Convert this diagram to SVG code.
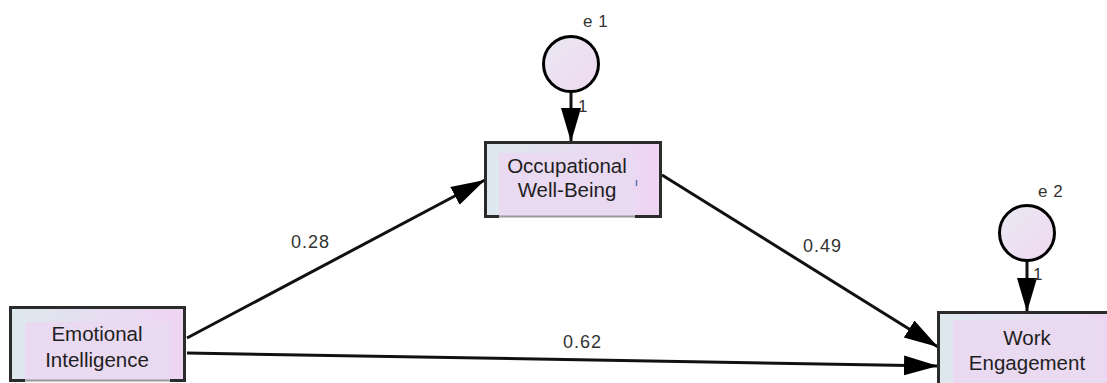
<svg xmlns="http://www.w3.org/2000/svg" width="1107" height="383" viewBox="0 0 1107 383">
<defs>
<linearGradient id="boxg" x1="0" y1="0" x2="1" y2="0">
<stop offset="0" stop-color="#dde8ee"/>
<stop offset="1" stop-color="#efd4f3"/>
</linearGradient>
<linearGradient id="circg" x1="0" y1="0" x2="1" y2="1">
<stop offset="0" stop-color="#e9e9f3"/>
<stop offset="1" stop-color="#f0d8f1"/>
</linearGradient>
<marker id="ah" markerUnits="userSpaceOnUse" markerWidth="36" markerHeight="22" refX="34" refY="10" orient="auto">
<path d="M0,0 L34,10 L0,20 z" fill="#000"/>
</marker>
</defs>
<style>
.box{fill:url(#boxg);stroke:none}
.inner{fill:#e9d9f1}
.edge{fill:none;stroke:#2b2b2b;stroke-width:3}
.bot{stroke:#9a9a9a;stroke-width:2}
.lbl{font-family:"Liberation Sans",Arial,sans-serif;font-size:20.5px;fill:#1e1e1e;text-anchor:middle}
.num{font-family:"Liberation Sans",Arial,sans-serif;font-size:18px;fill:#333;letter-spacing:1px}
.err{font-family:"Liberation Sans",Arial,sans-serif;font-size:17px;fill:#333;letter-spacing:0.5px}
.one{font-family:"Liberation Sans",Arial,sans-serif;font-size:17px;fill:#333}
.circ{fill:url(#circg);stroke:#000;stroke-width:3}
.conn{stroke:#111;stroke-width:3;fill:none;marker-end:url(#ah)}
</style>

<g id="connectors">
<line class="conn" x1="187" y1="338" x2="485" y2="180"/>
<line class="conn" x1="187" y1="353" x2="938" y2="366"/>
<line class="conn" x1="662" y1="175" x2="938" y2="347"/>
<line class="conn" x1="571" y1="92" x2="571" y2="142"/>
<line class="conn" x1="1027" y1="261" x2="1027" y2="312"/>
<text class="num" x="291" y="248">0.28</text>
<text class="num" x="803" y="252">0.49</text>
<text class="num" x="563" y="348">0.62</text>
<text class="one" x="578" y="112">1</text>
<text class="one" x="1033" y="280">1</text>
</g>

<g id="occupational-well-being">
<rect class="box" x="485" y="142" width="176" height="75"/>
<rect class="inner" x="499" y="153" width="136" height="64"/>
<path class="edge" d="M499,216.5 H485.5 V142.5 H660.5 V216.5 H635"/>
<line class="bot" x1="499" y1="216.5" x2="635" y2="216.5"/>
<line x1="636.5" y1="180" x2="636.5" y2="186" stroke="#5577aa" stroke-width="1.5"/>
<text class="lbl" x="567" y="173">Occupational</text>
<text class="lbl" x="567" y="197">Well-Being</text>
</g>

<g id="emotional-intelligence">
<rect class="box" x="10" y="307" width="175" height="74"/>
<rect class="inner" x="25" y="322" width="146" height="59"/>
<path class="edge" d="M25,380.5 H10.5 V307.5 H184.5 V380.5 H170"/>
<line class="bot" x1="25" y1="380.5" x2="170" y2="380.5"/>
<text class="lbl" x="97" y="341">Emotional</text>
<text class="lbl" x="97" y="367">Intelligence</text>
</g>

<g id="work-engagement">
<rect class="box" x="938" y="312" width="185" height="75"/>
<rect class="inner" x="953" y="320" width="150" height="67"/>
<path class="edge" d="M938.5,390 V312.5 H1110"/>
<text class="lbl" x="1027" y="345">Work</text>
<text class="lbl" x="1027" y="370">Engagement</text>
</g>

<g id="e1">
<circle class="circ" cx="571" cy="64" r="27.5"/>
<text class="err" x="583" y="27">e 1</text>
</g>

<g id="e2">
<circle class="circ" cx="1027" cy="233" r="27.5"/>
<text class="err" x="1038" y="197">e 2</text>
</g>
</svg>
